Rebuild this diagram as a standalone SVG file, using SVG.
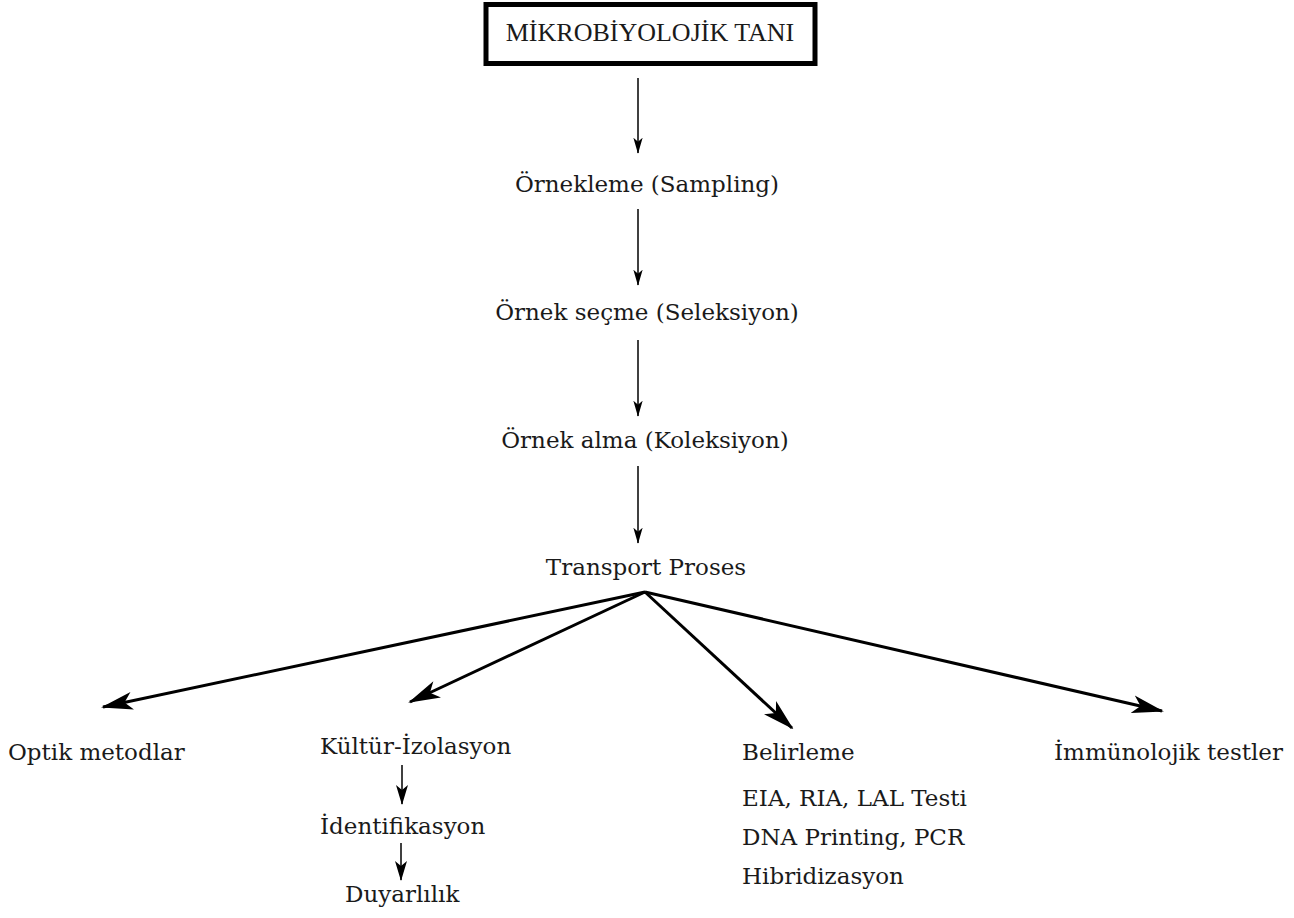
<svg xmlns="http://www.w3.org/2000/svg" width="1294" height="918" viewBox="0 0 1294 918">
<style>
.t{font-family:"DejaVu Serif",serif;font-size:23px;fill:#1a1a1a}
.c{text-anchor:middle}
.ln{stroke:#000;stroke-width:1.5;fill:none}
.fan{stroke:#000;stroke-width:3;fill:none}
</style>
<defs>
<marker id="ah" markerUnits="userSpaceOnUse" markerWidth="16" markerHeight="26" refX="23" refY="7" viewBox="0 0 24 14" orient="auto">
<path d="M0,0 L24,7 L0,14 L6,7 Z" fill="#000"/>
</marker>
<marker id="ahb" markerUnits="userSpaceOnUse" markerWidth="32" markerHeight="20" refX="30" refY="9" viewBox="0 0 32 18" orient="auto">
<path d="M0,0 L32,9 L0,18 L8,9 Z" fill="#000"/>
</marker>
<marker id="ahs" markerUnits="userSpaceOnUse" markerWidth="20" markerHeight="12" refX="19" refY="6" viewBox="0 0 20 12" orient="auto">
<path d="M0,0 L20,6 L0,12 L5,6 Z" fill="#000"/>
</marker>
</defs>
<g id="n-title">
<rect x="486" y="4.5" width="329" height="59" fill="#fff" stroke="#000" stroke-width="5"/>
<text x="650" y="41" style="font-family:'Liberation Serif',serif;font-size:26px;fill:#1a1a1a" text-anchor="middle">MİKROBİYOLOJİK TANI</text>
</g>
<g id="n-ornekleme"><text class="t c" x="647" y="192">Örnekleme (Sampling)</text></g>
<g id="n-secme"><text class="t c" x="647" y="320">Örnek seçme (Seleksiyon)</text></g>
<g id="n-alma"><text class="t c" x="645" y="448">Örnek alma (Koleksiyon)</text></g>
<g id="n-transport"><text class="t c" x="646" y="575">Transport Proses</text></g>
<g id="n-optik"><text class="t" x="8" y="760">Optik metodlar</text></g>
<g id="n-kultur"><text class="t" x="320" y="754">Kültür-İzolasyon</text></g>
<g id="n-ident"><text class="t" x="320" y="834">İdentifikasyon</text></g>
<g id="n-duyar"><text class="t" x="345" y="902">Duyarlılık</text></g>
<g id="n-belirleme">
<text class="t" x="742" y="760">Belirleme</text>
<text class="t" x="742" y="806">EIA, RIA, LAL Testi</text>
<text class="t" x="742" y="845">DNA Printing, PCR</text>
<text class="t" x="742" y="884">Hibridizasyon</text>
</g>
<g id="n-immuno"><text class="t" x="1054" y="760">İmmünolojik testler</text></g>
<g id="connectors">
<line class="ln" x1="638" y1="78" x2="638" y2="153" marker-end="url(#ah)"/>
<line class="ln" x1="638" y1="209" x2="638" y2="285" marker-end="url(#ah)"/>
<line class="ln" x1="638" y1="340" x2="638" y2="416" marker-end="url(#ah)"/>
<line class="ln" x1="638" y1="466" x2="638" y2="543" marker-end="url(#ah)"/>
<line class="fan" x1="645" y1="592" x2="103" y2="707" marker-end="url(#ahb)"/>
<line class="fan" x1="645" y1="592" x2="410" y2="702" marker-end="url(#ahb)"/>
<line class="fan" x1="645" y1="592" x2="792" y2="728" marker-end="url(#ahb)"/>
<line class="fan" x1="645" y1="592" x2="1162" y2="711" marker-end="url(#ahb)"/>
<line class="ln" x1="402" y1="765" x2="402" y2="804" marker-end="url(#ahs)"/>
<line class="ln" x1="401" y1="843" x2="401" y2="880" marker-end="url(#ahs)"/>
</g>
</svg>
